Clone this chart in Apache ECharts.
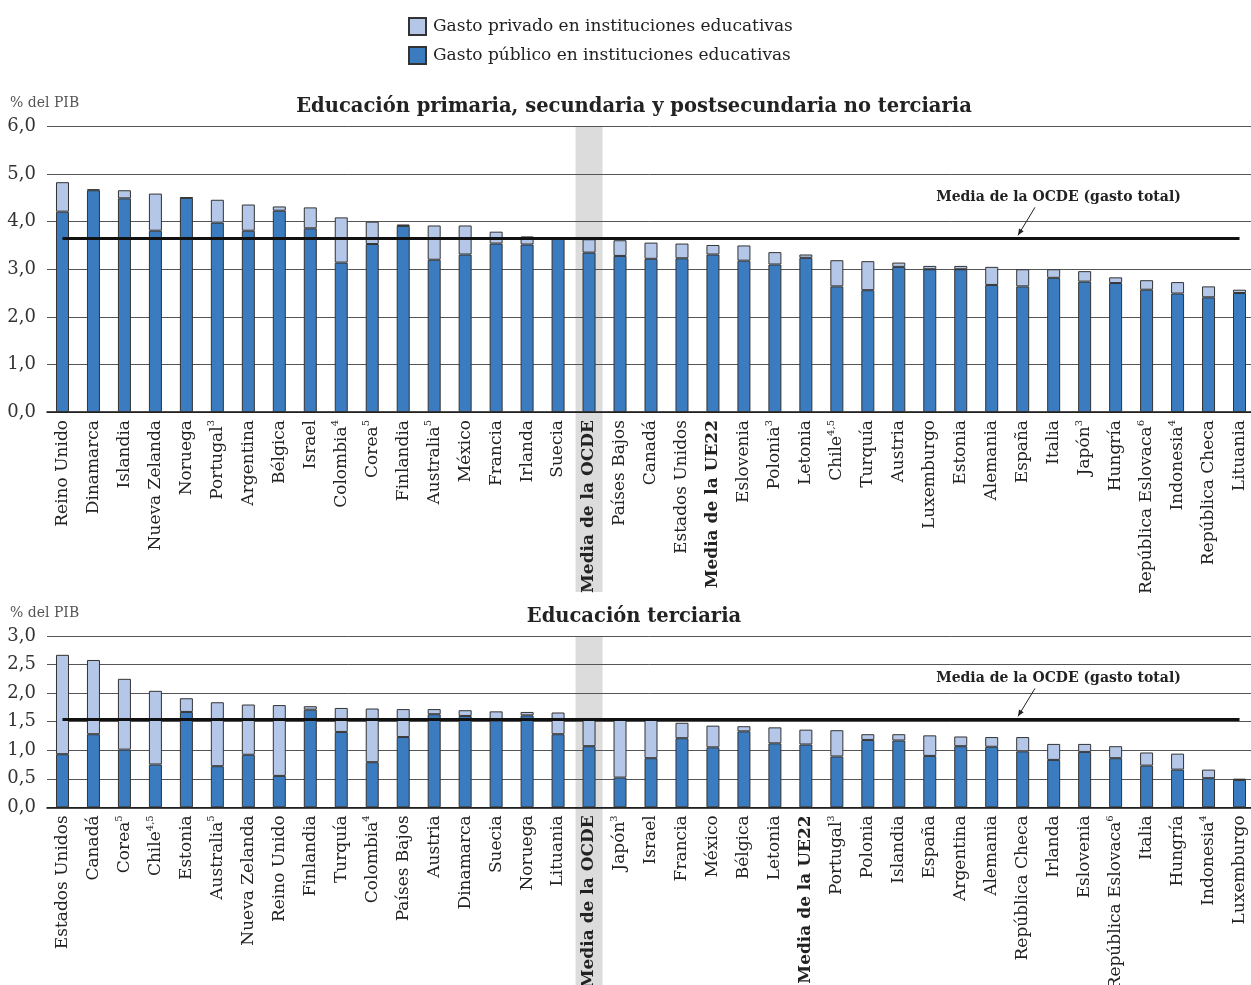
<!DOCTYPE html>
<html><head><meta charset="utf-8">
<script src="https://cdn.jsdelivr.net/npm/echarts@6/dist/echarts.min.js"></script>
<style>html,body{margin:0;padding:0;background:#fff}#c{width:1251px;height:985px}</style>
</head><body><div id="c"></div>
<script>
// ---------- DATA ----------
const seriesPriv = 'Gasto privado en instituciones educativas';
const seriesPub = 'Gasto público en instituciones educativas';

const catsTop = ['Reino Unido','Dinamarca','Islandia','Nueva Zelanda','Noruega','Portugal|3','Argentina','Bélgica','Israel','Colombia|4','Corea|5','Finlandia','Australia|5','México','Francia','Irlanda','Suecia','Media de la OCDE','Países Bajos','Canadá','Estados Unidos','Media de la UE22','Eslovenia','Polonia|3','Letonia','Chile|4,5','Turquía','Austria','Luxemburgo','Estonia','Alemania','España','Italia','Japón|3','Hungría','República Eslovaca|6','Indonesia|4','República Checa','Lituania'];
const pubTop = [4.21,4.66,4.49,3.81,4.50,3.98,3.81,4.23,3.86,3.14,3.53,3.91,3.20,3.31,3.54,3.52,3.66,3.35,3.28,3.22,3.23,3.31,3.18,3.10,3.24,2.64,2.56,3.05,3.00,3.00,2.67,2.64,2.82,2.74,2.71,2.57,2.49,2.41,2.50];
const privTop = [0.62,0.02,0.17,0.78,0.01,0.48,0.55,0.09,0.44,0.95,0.47,0.03,0.72,0.61,0.25,0.17,0.01,0.28,0.33,0.34,0.31,0.20,0.32,0.26,0.07,0.55,0.61,0.09,0.07,0.07,0.38,0.36,0.18,0.22,0.12,0.20,0.24,0.23,0.07];
const meanTop = 3.65;

const catsBot = ['Estados Unidos','Canadá','Corea|5','Chile|4,5','Estonia','Australia|5','Nueva Zelanda','Reino Unido','Finlandia','Turquía','Colombia|4','Países Bajos','Austria','Dinamarca','Suecia','Noruega','Lituania','Media de la OCDE','Japón|3','Israel','Francia','México','Bélgica','Letonia','Media de la UE22','Portugal|3','Polonia','Islandia','España','Argentina','Alemania','República Checa','Irlanda','Eslovenia','República Eslovaca|6','Italia','Hungría','Indonesia|4','Luxemburgo'];
const pubBot = [0.93,1.28,1.01,0.75,1.67,0.72,0.92,0.55,1.71,1.32,0.79,1.23,1.63,1.60,1.52,1.61,1.28,1.07,0.52,0.86,1.21,1.05,1.33,1.12,1.10,0.89,1.18,1.17,0.90,1.07,1.06,0.98,0.83,0.97,0.86,0.73,0.66,0.51,0.48];
const privBot = [1.74,1.30,1.24,1.29,0.24,1.12,0.88,1.24,0.06,0.42,0.94,0.49,0.09,0.10,0.16,0.06,0.38,0.47,1.01,0.67,0.27,0.38,0.09,0.28,0.26,0.46,0.10,0.11,0.36,0.17,0.17,0.25,0.28,0.14,0.21,0.23,0.28,0.15,0.02];
const meanBot = 1.54;

const titleTop = 'Educación primaria, secundaria y postsecundaria no terciaria';
const titleBot = 'Educación terciaria';
const unitLabel = '% del PIB';
const meanLabel = 'Media de la OCDE (gasto total)';
const oecdCat = 'Media de la OCDE';

// ---------- STYLE ----------
const FONT = 'DejaVu Serif';
const C_PUB = '#3a7cbf';
const C_PRIV = '#b4c7e8';
const C_BORDER = '#333';

function catLabel(v) {
  const parts = v.split('|');
  const name = parts[0];
  const bold = name.indexOf('Media de la') === 0;
  let s = (bold ? '{b|' : '{n|') + name + '}';
  if (parts[1]) s += '{s|' + parts[1] + '}';
  return s;
}
const richLbl = {
  n: {fontFamily: FONT, fontSize: 17, color: '#222', lineHeight: 21},
  b: {fontFamily: FONT, fontSize: 17, fontWeight: 'bold', color: '#222', lineHeight: 21},
  s: {fontFamily: FONT, fontSize: 10, color: '#222', lineHeight: 10, verticalAlign: 'top'}
};
function yFmt(v) { return v.toFixed(1).replace('.', ','); }

const chart = echarts.init(document.getElementById('c'), null, {renderer: 'canvas'});

function xAx(gi, cats) {
  return {
    type: 'category', gridIndex: gi, data: cats,
    axisTick: {show: false},
    axisLine: {lineStyle: {color: '#111', width: 1.5}},
    axisLabel: {interval: 0, rotate: 90, margin: 8, formatter: catLabel, rich: richLbl}
  };
}
function yAx(gi, max, interval) {
  return {
    type: 'value', gridIndex: gi, min: 0, max: max, interval: interval,
    axisLine: {show: false}, axisTick: {show: false},
    splitLine: {lineStyle: {color: '#555', width: 1}},
    axisLabel: {formatter: yFmt, fontFamily: FONT, fontSize: 18, color: '#333', margin: 11}
  };
}
function meanLine(cats, val) {
  return {
    silent: true, symbol: 'none', label: {show: false},
    lineStyle: {color: '#111', width: 3, type: 'solid'},
    data: [[{coord: [0, val]}, {coord: [cats.length - 1, val]}]]
  };
}

const option = {
  animation: false,
  backgroundColor: '#fff',
  textStyle: {fontFamily: FONT},
  title: [
    {text: titleTop, left: 634, top: 97, padding: 0, textAlign: 'center', textStyle: {fontFamily: FONT, fontWeight: 'bold', fontSize: 19.5, color: '#222'}},
    {text: titleBot, left: 634, top: 607, padding: 0, textAlign: 'center', textStyle: {fontFamily: FONT, fontWeight: 'bold', fontSize: 19.5, color: '#222'}},
    {text: unitLabel, left: 10, top: 96, padding: 0, textStyle: {fontFamily: FONT, fontWeight: 'normal', fontSize: 14, color: '#555'}},
    {text: unitLabel, left: 10, top: 606, padding: 0, textStyle: {fontFamily: FONT, fontWeight: 'normal', fontSize: 14, color: '#555'}}
  ],
  legend: {
    orient: 'vertical', left: 408, top: 17, padding: 0, itemWidth: 17, itemHeight: 17, itemGap: 10,
    icon: 'rect', selectedMode: false,
    textStyle: {fontFamily: FONT, fontSize: 17, color: '#222', padding: [0, 0, 0, 2]},
    data: [seriesPriv, seriesPub]
  },
  grid: [
    {left: 47, width: 1208, top: 126.5, height: 285.5, outerBoundsMode: 'none', containLabel: false},
    {left: 47, width: 1208, top: 636, height: 171.3, outerBoundsMode: 'none', containLabel: false}
  ],
  xAxis: [xAx(0, catsTop), xAx(1, catsBot)],
  yAxis: [yAx(0, 6, 1), yAx(1, 3, 0.5)],
  series: [
    {name: seriesPub, type: 'bar', xAxisIndex: 0, yAxisIndex: 0, stack: 'top', barWidth: 13, data: pubTop,
     itemStyle: {color: C_PUB, borderColor: C_BORDER, borderWidth: 1}, markLine: meanLine(catsTop, meanTop)},
    {name: seriesPriv, type: 'bar', xAxisIndex: 0, yAxisIndex: 0, stack: 'top', barWidth: 13, data: privTop,
     itemStyle: {color: C_PRIV, borderColor: C_BORDER, borderWidth: 1}},
    {name: seriesPub, type: 'bar', xAxisIndex: 1, yAxisIndex: 1, stack: 'bot', barWidth: 13, data: pubBot,
     itemStyle: {color: C_PUB, borderColor: C_BORDER, borderWidth: 1}, markLine: meanLine(catsBot, meanBot)},
    {name: seriesPriv, type: 'bar', xAxisIndex: 1, yAxisIndex: 1, stack: 'bot', barWidth: 13, data: privBot,
     itemStyle: {color: C_PRIV, borderColor: C_BORDER, borderWidth: 1}}
  ]
};
chart.setOption(option);

// ---------- decorations derived from the axes ----------
const graphics = [];
function addDeco(gi, cats, meanVal, maxVal) {
  const idx = cats.indexOf(oecdCat);
  const cx = chart.convertToPixel({xAxisIndex: gi}, idx);
  const yTopPx = chart.convertToPixel({yAxisIndex: gi}, maxVal);
  const y0Px = chart.convertToPixel({yAxisIndex: gi}, 0);
  const bandBottom = gi === 0 ? y0Px + 180 : 985;
  graphics.push({type: 'rect', z: -10, silent: true,
    shape: {x: cx - 13.5, y: yTopPx, width: 27, height: bandBottom - yTopPx},
    style: {fill: '#dcdcdc'}});
  const yMean = chart.convertToPixel({yAxisIndex: gi}, meanVal);
  const tipX = 1018, tipY = yMean - 3;
  const startX = 1035, startY = yMean - 31;
  graphics.push({type: 'text', z: 50, silent: true,
    style: {text: meanLabel, x: 1058.5, y: yMean - 41, align: 'center', verticalAlign: 'middle',
            font: 'bold 14px "' + FONT + '"', fill: '#222'}});
  graphics.push({type: 'line', z: 50, silent: true,
    shape: {x1: startX, y1: startY, x2: tipX, y2: tipY}, style: {stroke: '#222', lineWidth: 1}});
  const ang = Math.atan2(tipY - startY, tipX - startX);
  const L = 7, W = 0.4;
  graphics.push({type: 'polygon', z: 50, silent: true,
    shape: {points: [[tipX, tipY],
      [tipX - L * Math.cos(ang - W), tipY - L * Math.sin(ang - W)],
      [tipX - L * Math.cos(ang + W), tipY - L * Math.sin(ang + W)]]},
    style: {fill: '#222'}});
}
addDeco(0, catsTop, meanTop, 6);
addDeco(1, catsBot, meanBot, 3);
chart.setOption({graphic: graphics});
</script>
</body></html>
